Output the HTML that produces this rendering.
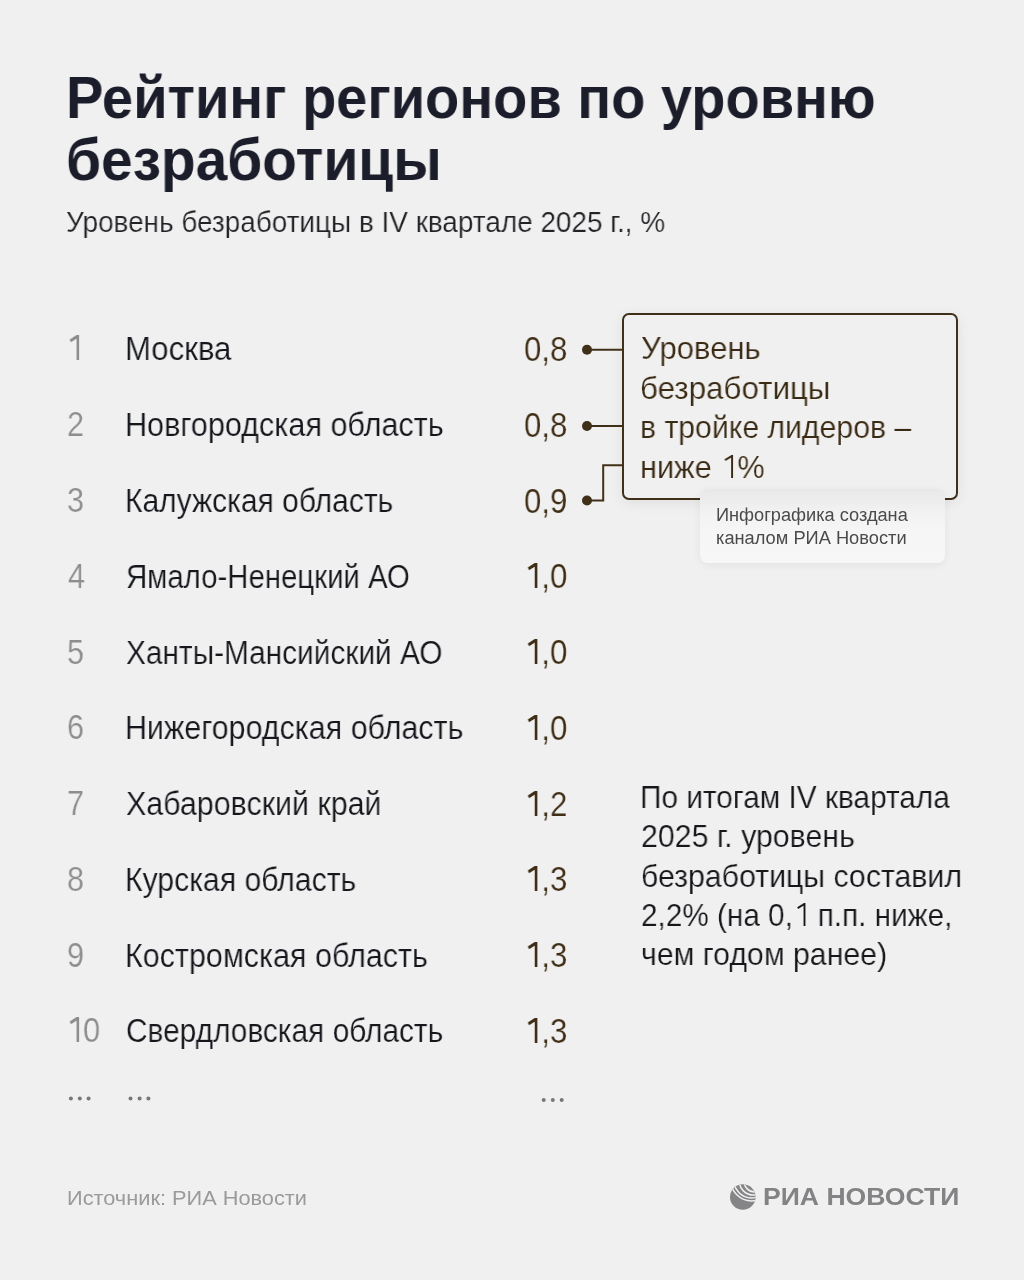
<!DOCTYPE html>
<html lang="ru"><head><meta charset="utf-8">
<style>
html,body{margin:0;padding:0}
body{width:1024px;height:1280px;background:#f0f0f0;position:relative;overflow:hidden;font-family:"Liberation Sans",sans-serif}
.t{position:absolute;white-space:nowrap;transform-origin:0 0;will-change:transform}
.title{font-weight:700}
.name,.val,.num,.call,.par,.sub{-webkit-text-stroke:0.2px #f0f0f0}
.tip{}
.one{display:inline-block;position:relative;width:0.556em;height:0.716em}
.one::before{content:"";position:absolute;left:0.356em;width:0.072em;top:0;bottom:0;background:currentColor}
.one::after{content:"";position:absolute;right:0.2em;top:0;width:0.26em;height:0.075em;background:currentColor;transform:rotate(-30deg);transform-origin:100% 0}
.foot{}
.logo{font-weight:700}
.title{color:#1c1d2a}
.sub{color:#222226}
.call{color:#3a2a14}
.par{color:#17171b}
.tip{color:#4a4a4c}
.foot{color:#9a9a9c}
.logo{color:#838385}
.name{color:#16171c}
.val{color:#3f2e15}
.num{color:#8d8d90}
.box{position:absolute;left:622px;top:312.7px;width:332px;height:183px;border:2px solid #40301a;border-radius:7px;box-shadow:0 3px 14px rgba(0,0,0,0.07)}

.tipbox{position:absolute;left:700px;top:489px;width:245px;height:74px;border-radius:8px;background:linear-gradient(#e8e8e8,#f2f2f2 24px,#f6f6f6 44px,#f7f7f7);box-shadow:0 2px 8px rgba(0,0,0,0.06)}
</style></head><body>
<div class="box"></div>
<svg style="position:absolute;left:0;top:0" width="1024" height="1280">
 <g stroke="#40301a" stroke-width="2" fill="none">
  <path d="M587 349.8H623"/>
  <path d="M587 426H623"/>
  <path d="M587 500.5H603.2V465.3H623"/>
 </g>
 <g fill="#40301a">
  <circle cx="587" cy="349.8" r="5"/>
  <circle cx="587" cy="426" r="5"/>
  <circle cx="587" cy="500.5" r="5"/>
 </g>
 <g fill="#77777a">
  <circle cx="70.9" cy="1098.6" r="2"/><circle cx="79.8" cy="1098.6" r="2"/><circle cx="88.6" cy="1098.6" r="2"/>
  <circle cx="130.5" cy="1098.6" r="2"/><circle cx="139.6" cy="1098.6" r="2"/><circle cx="148.4" cy="1098.6" r="2"/>
  <circle cx="543.7" cy="1100" r="2"/><circle cx="552.8" cy="1100" r="2"/><circle cx="561.7" cy="1100" r="2"/>
 </g>
 <g>
  <defs><clipPath id="gc"><circle cx="742.8" cy="1197" r="12.8"/></clipPath></defs>
  <g clip-path="url(#gc)">
   <rect x="725" y="1180" width="40" height="40" fill="#858587"/>
   <g stroke="#f0f0f0" stroke-width="1.5" fill="none">
    <circle cx="754.7" cy="1181.4" r="10.6"/>
    <circle cx="753.6" cy="1180.6" r="14.5"/>
    <circle cx="751.6" cy="1180.3" r="17.7"/>
    <circle cx="751.6" cy="1180" r="20.9"/>
   </g>
  </g>
 </g>
</svg>
<div class="tipbox"></div>
<div class="t title" style="left:66.0px;top:68.31px;font-size:60px;line-height:60px;transform:scaleX(0.9331)">Рейтинг регионов по уровню</div>
<div class="t title" style="left:66.0px;top:129.71px;font-size:60px;line-height:60px;transform:scaleX(0.9465)">безработицы</div>
<div class="t sub" style="left:66.0px;top:206.8px;font-size:30px;line-height:30px;transform:scaleX(0.9308)">Уровень безработицы в IV квартале 2025 г., %</div>
<div class="t call" style="left:641.0px;top:332.11px;font-size:32px;line-height:32px;transform:scaleX(0.9711)">Уровень</div>
<div class="t call" style="left:640.0px;top:371.71px;font-size:32px;line-height:32px;transform:scaleX(0.9785)">безработицы</div>
<div class="t call" style="left:640.0px;top:411.21px;font-size:32px;line-height:32px;transform:scaleX(0.9437)">в тройке лидеров –</div>
<div class="t call" style="left:640.0px;top:450.61px;font-size:32px;line-height:32px;transform:scaleX(0.9591)">ниже <span class="one"></span>%</div>
<div class="t par" style="left:640.0px;top:780.71px;font-size:32px;line-height:32px;transform:scaleX(0.9317)">По итогам IV квартала</div>
<div class="t par" style="left:641.0px;top:820.21px;font-size:32px;line-height:32px;transform:scaleX(0.9478)">2025 г. уровень</div>
<div class="t par" style="left:641.0px;top:859.61px;font-size:32px;line-height:32px;transform:scaleX(0.9458)">безработицы составил</div>
<div class="t par" style="left:641.0px;top:899.31px;font-size:32px;line-height:32px;transform:scaleX(0.9289)">2,2% (на 0,<span class="one"></span> п.п. ниже,</div>
<div class="t par" style="left:641.0px;top:938.31px;font-size:32px;line-height:32px;transform:scaleX(0.9455)">чем годом ранее)</div>
<div class="t tip" style="left:716.0px;top:505.56px;font-size:18px;line-height:18px;transform:scaleX(1.0106)">Инфографика создана</div>
<div class="t tip" style="left:716.0px;top:529.36px;font-size:18px;line-height:18px;transform:scaleX(1.014)">каналом РИА Новости</div>
<div class="t foot" style="left:66.7px;top:1187.02px;font-size:21px;line-height:21px;transform:scaleX(1.0362)">Источник: РИА Новости</div>
<div class="t logo" style="left:763.2px;top:1185.28px;font-size:24px;line-height:24px;transform:scaleX(1.1074)">РИА НОВОСТИ</div>
<div class="t name" style="left:125.2px;top:332.47px;font-size:33px;line-height:33px;transform:scaleX(0.9441)">Москва</div>
<div class="t val" style="left:524.4px;top:331.07px;font-size:35px;line-height:35px;transform:scaleX(0.89)">0,8</div>
<div class="t num" style="left:65.6px;top:330.47px;font-size:35px;line-height:35px;transform:scaleX(0.875)"><span class="one"></span></div>
<div class="t name" style="left:125.2px;top:408.24px;font-size:33px;line-height:33px;transform:scaleX(0.9267)">Новгородская область</div>
<div class="t val" style="left:524.4px;top:406.84px;font-size:35px;line-height:35px;transform:scaleX(0.89)">0,8</div>
<div class="t num" style="left:66.6px;top:406.24px;font-size:35px;line-height:35px;transform:scaleX(0.875)">2</div>
<div class="t name" style="left:125.2px;top:484.01px;font-size:33px;line-height:33px;transform:scaleX(0.9092)">Калужская область</div>
<div class="t val" style="left:524.4px;top:482.61px;font-size:35px;line-height:35px;transform:scaleX(0.89)">0,9</div>
<div class="t num" style="left:66.6px;top:482.01px;font-size:35px;line-height:35px;transform:scaleX(0.875)">3</div>
<div class="t name" style="left:126.2px;top:559.78px;font-size:33px;line-height:33px;transform:scaleX(0.8899)">Ямало-Ненецкий АО</div>
<div class="t val" style="left:524.4px;top:558.38px;font-size:35px;line-height:35px;transform:scaleX(0.89)"><span class="one"></span>,0</div>
<div class="t num" style="left:67.6px;top:557.78px;font-size:35px;line-height:35px;transform:scaleX(0.875)">4</div>
<div class="t name" style="left:126.2px;top:635.55px;font-size:33px;line-height:33px;transform:scaleX(0.9037)">Ханты-Мансийский АО</div>
<div class="t val" style="left:524.4px;top:634.15px;font-size:35px;line-height:35px;transform:scaleX(0.89)"><span class="one"></span>,0</div>
<div class="t num" style="left:66.6px;top:633.55px;font-size:35px;line-height:35px;transform:scaleX(0.875)">5</div>
<div class="t name" style="left:125.2px;top:711.32px;font-size:33px;line-height:33px;transform:scaleX(0.9223)">Нижегородская область</div>
<div class="t val" style="left:524.4px;top:709.92px;font-size:35px;line-height:35px;transform:scaleX(0.89)"><span class="one"></span>,0</div>
<div class="t num" style="left:66.6px;top:709.32px;font-size:35px;line-height:35px;transform:scaleX(0.875)">6</div>
<div class="t name" style="left:126.2px;top:787.09px;font-size:33px;line-height:33px;transform:scaleX(0.9215)">Хабаровский край</div>
<div class="t val" style="left:524.4px;top:785.69px;font-size:35px;line-height:35px;transform:scaleX(0.89)"><span class="one"></span>,2</div>
<div class="t num" style="left:66.6px;top:785.09px;font-size:35px;line-height:35px;transform:scaleX(0.875)">7</div>
<div class="t name" style="left:125.2px;top:862.86px;font-size:33px;line-height:33px;transform:scaleX(0.914)">Курская область</div>
<div class="t val" style="left:524.4px;top:861.46px;font-size:35px;line-height:35px;transform:scaleX(0.89)"><span class="one"></span>,3</div>
<div class="t num" style="left:66.6px;top:860.86px;font-size:35px;line-height:35px;transform:scaleX(0.875)">8</div>
<div class="t name" style="left:125.2px;top:938.63px;font-size:33px;line-height:33px;transform:scaleX(0.9237)">Костромская область</div>
<div class="t val" style="left:524.4px;top:937.23px;font-size:35px;line-height:35px;transform:scaleX(0.89)"><span class="one"></span>,3</div>
<div class="t num" style="left:66.6px;top:936.63px;font-size:35px;line-height:35px;transform:scaleX(0.875)">9</div>
<div class="t name" style="left:126.2px;top:1014.4px;font-size:33px;line-height:33px;transform:scaleX(0.9046)">Свердловская область</div>
<div class="t val" style="left:524.4px;top:1013.0px;font-size:35px;line-height:35px;transform:scaleX(0.89)"><span class="one"></span>,3</div>
<div class="t num" style="left:65.6px;top:1012.4px;font-size:35px;line-height:35px;transform:scaleX(0.875)"><span class="one"></span>0</div>
</body></html>
